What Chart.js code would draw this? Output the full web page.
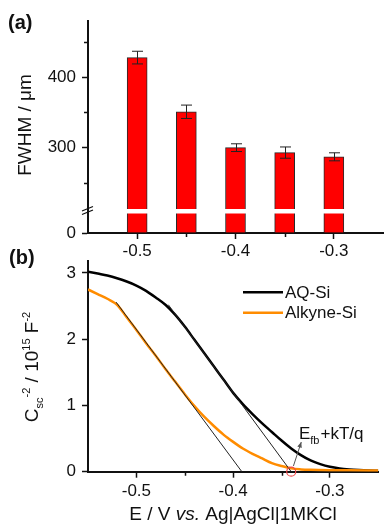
<!DOCTYPE html>
<html><head><meta charset="utf-8">
<script src="https://cdn.jsdelivr.net/npm/chart.js@4/dist/chart.umd.min.js"></script>
<style>
html,body{margin:0;padding:0;background:#fff;}
#wrap{position:relative;width:384px;height:526px;overflow:hidden;background:#fff;}
#ca{position:absolute;left:0;top:0;}
#cb{position:absolute;left:0;top:244px;}
</style></head><body>
<div id="wrap"><canvas id="ca" width="384" height="262"></canvas><canvas id="cb" width="384" height="282"></canvas></div>
<script>
// ---------- Panel (a) data ----------
const potentials = [-0.5, -0.45, -0.4, -0.35, -0.3];
const fwhm = [428, 351, 300, 293, 287];
const fwhmErr = [9, 9.5, 5.5, 8, 5.7];
const fwhmTicks = [300, 400];
const fwhmMinorTicks = [250, 350, 450];
const fwhmLowTicks = [0];
const potentialTicks = [-0.5, -0.4, -0.3];
const potentialMinorTicks = [-0.45, -0.35];

// ---------- Panel (b) data ----------
const seriesNames = ['AQ-Si', 'Alkyne-Si'];
const aqE = [-0.55,-0.54,-0.53,-0.52,-0.51,-0.50,-0.49,-0.48,-0.47,-0.46,-0.45,-0.44,-0.43,-0.42,-0.41,-0.40,-0.39,-0.38,-0.37,-0.36,-0.35,-0.34,-0.33,-0.32,-0.31,-0.30,-0.29,-0.28,-0.27,-0.26,-0.25];
const aqC = [3.02,2.99,2.96,2.92,2.87,2.81,2.73,2.63,2.52,2.37,2.19,1.99,1.79,1.59,1.39,1.19,1.02,0.87,0.73,0.60,0.47,0.35,0.25,0.17,0.115,0.075,0.05,0.035,0.025,0.018,0.014];
const alkE = [-0.55,-0.54,-0.53,-0.52,-0.51,-0.50,-0.49,-0.48,-0.47,-0.46,-0.45,-0.44,-0.43,-0.42,-0.41,-0.40,-0.39,-0.38,-0.37,-0.36,-0.35,-0.34,-0.33,-0.32,-0.30,-0.28,-0.25];
const alkC = [2.75,2.68,2.61,2.52,2.33,2.14,1.94,1.75,1.55,1.36,1.17,0.99,0.83,0.69,0.56,0.45,0.35,0.27,0.20,0.13,0.085,0.05,0.035,0.028,0.022,0.02,0.018];
const aqTangentE = [-0.467, -0.340];
const aqTangentC = [2.52, 0];
const alkTangentE = [-0.521, -0.391];
const alkTangentC = [2.56, 0];
const efbE = [-0.34];
const efbC = [0];
const cscTicks = [0, 1, 2, 3];
const arrowE = [-0.3377, -0.3296];
const arrowC = [0.086, 0.448];
const labelPos = {E: -0.332, C: 0.50};

const FAM = "'Liberation Sans', Arial, Helvetica, sans-serif";
const ink = '#111';
const tickFont = {family: FAM, size: 17};

function minorTicksX(ctx, scale, vals) {
  ctx.beginPath();
  vals.forEach(v => {
    const p = Math.round(scale.getPixelForValue(v)) + 0.5;
    ctx.moveTo(p, scale.top); ctx.lineTo(p, scale.top + 4);
  });
  ctx.stroke();
}

// ---------- Chart (a) ----------
const topMin = 210, topMax = 480, lowMax = 30;
const barStyle = {backgroundColor: '#ff0000', borderColor: '#2a2a2a', borderWidth: 1, barThickness: 20, grouped: false};

const panelA = {
  id: 'panelA',
  afterDatasetsDraw(chart) {
    const {ctx, chartArea, scales} = chart;
    const x = scales.x, yT = scales.yTop;
    const b = yT.bottom;
    ctx.save();
    ctx.fillStyle = '#fff';
    ctx.fillRect(chartArea.left + 1.5, b - 2, chartArea.right - chartArea.left, 4.5);
    ctx.strokeStyle = '#222'; ctx.lineWidth = 1;
    potentials.forEach((p, i) => {
      const px = Math.round(x.getPixelForValue(p)) + 0.5;
      const hi = yT.getPixelForValue(fwhm[i] + fwhmErr[i]);
      const lo = yT.getPixelForValue(fwhm[i] - fwhmErr[i]);
      ctx.beginPath();
      ctx.moveTo(px, hi); ctx.lineTo(px, lo);
      ctx.moveTo(px - 5.5, hi); ctx.lineTo(px + 5.5, hi);
      ctx.moveTo(px - 5.5, lo); ctx.lineTo(px + 5.5, lo);
      ctx.stroke();
    });
    ctx.restore();
  },
  afterDraw(chart) {
    const {ctx, chartArea, scales} = chart;
    const yT = scales.yTop, x = scales.x;
    const L = chartArea.left, b = yT.bottom;
    ctx.save();
    ctx.strokeStyle = ink; ctx.lineWidth = 1.5;
    ctx.beginPath();
    fwhmMinorTicks.forEach(v => {
      const p = Math.round(yT.getPixelForValue(v)) + 0.5;
      ctx.moveTo(L - 4, p); ctx.lineTo(L, p);
    });
    ctx.stroke();
    minorTicksX(ctx, x, potentialMinorTicks);
    // axis break marks
    ctx.lineWidth = 1.3;
    ctx.beginPath();
    ctx.moveTo(L - 6, b); ctx.lineTo(L + 5, b - 4.5);
    ctx.moveTo(L - 6, b + 3.5); ctx.lineTo(L + 5, b - 1);
    ctx.stroke();
    // titles
    ctx.fillStyle = ink;
    ctx.font = '19px ' + FAM;
    ctx.textAlign = 'center'; ctx.textBaseline = 'alphabetic';
    ctx.translate(31, 125); ctx.rotate(-Math.PI / 2);
    ctx.fillText('FWHM / \u03bcm', 0, 0);
    ctx.setTransform(1, 0, 0, 1, 0, 0);
    ctx.textAlign = 'left';
    ctx.font = 'bold 20px ' + FAM;
    ctx.fillText('(a)', 8, 28.5);
    ctx.restore();
  }
};

const yCommon = {
  type: 'linear', position: 'left', stack: 'fw',
  afterFit: s => { s.width = 88; },
  grid: {drawOnChartArea: false, drawTicks: true, tickLength: 6, color: ink, tickWidth: 1.5},
  border: {display: true, color: ink, width: 2},
  ticks: {font: tickFont, color: ink, padding: 6}
};

new Chart(document.getElementById('ca'), {
  type: 'bar',
  data: {
    datasets: [
      Object.assign({label: 'FWHM', yAxisID: 'yTop', data: potentials.map((p, i) => ({x: p, y: [topMin, fwhm[i]]}))}, barStyle),
      Object.assign({label: 'FWHM (lower)', yAxisID: 'yLow', data: potentials.map((p, i) => ({x: p, y: [0, Math.min(fwhm[i], lowMax)]}))}, barStyle)
    ]
  },
  options: {
    responsive: false, animation: false, devicePixelRatio: 1,
    layout: {padding: {top: 21, right: 1, left: 0, bottom: 0}},
    plugins: {legend: {display: false}, tooltip: {enabled: false}},
    scales: {
      x: {
        type: 'linear', min: -0.55, max: -0.25, offset: false,
        afterBuildTicks: s => { s.ticks = potentialTicks.map(v => ({value: v})); },
        afterFit: s => { s.height = 29; },
        grid: {drawOnChartArea: false, drawTicks: true, tickLength: 6, color: ink, tickWidth: 1.5, offset: false},
        border: {display: true, color: ink, width: 2},
        ticks: {font: tickFont, color: ink, padding: 2, maxRotation: 0, callback: v => v.toFixed(1)}
      },
      yLow: Object.assign({}, yCommon, {
        stackWeight: 22, min: 0, max: lowMax,
        afterBuildTicks: s => { s.ticks = fwhmLowTicks.map(v => ({value: v})); }
      }),
      yTop: Object.assign({}, yCommon, {
        stackWeight: 190, min: topMin, max: topMax,
        afterBuildTicks: s => { s.ticks = fwhmTicks.map(v => ({value: v})); }
      })
    }
  },
  plugins: [panelA]
});

// ---------- Chart (b) ----------
const panelB = {
  id: 'panelB',
  afterDraw(chart) {
    const {ctx, scales} = chart;
    const x = scales.x, y = scales.y;
    ctx.save();
    ctx.strokeStyle = ink; ctx.lineWidth = 1.5;
    minorTicksX(ctx, x, potentialMinorTicks);
    // legend
    const colors = {};
    chart.data.datasets.forEach(d => { colors[d.label] = d.borderColor; });
    ctx.font = '17px ' + FAM;
    ctx.textBaseline = 'middle'; ctx.textAlign = 'left';
    seriesNames.forEach((n, i) => {
      const ly = 48.3 + i * 20.4;
      ctx.strokeStyle = colors[n]; ctx.lineWidth = 2.5;
      ctx.beginPath(); ctx.moveTo(243, ly); ctx.lineTo(283, ly); ctx.stroke();
      ctx.fillStyle = ink;
      ctx.fillText(n, 285, ly + 1);
    });
    // arrow
    const ax0 = x.getPixelForValue(arrowE[0]), ay0 = y.getPixelForValue(arrowC[0]);
    const ax1 = x.getPixelForValue(arrowE[1]), ay1 = y.getPixelForValue(arrowC[1]);
    ctx.strokeStyle = '#555'; ctx.fillStyle = '#555'; ctx.lineWidth = 1;
    ctx.beginPath(); ctx.moveTo(ax0, ay0); ctx.lineTo(ax1, ay1); ctx.stroke();
    const ang = Math.atan2(ay1 - ay0, ax1 - ax0);
    ctx.beginPath();
    ctx.moveTo(ax1, ay1);
    ctx.lineTo(ax1 - 6 * Math.cos(ang - 0.4), ay1 - 6 * Math.sin(ang - 0.4));
    ctx.lineTo(ax1 - 6 * Math.cos(ang + 0.4), ay1 - 6 * Math.sin(ang + 0.4));
    ctx.closePath(); ctx.fill();
    // annotation text
    ctx.fillStyle = ink; ctx.textBaseline = 'alphabetic';
    let tx = x.getPixelForValue(labelPos.E), ty = y.getPixelForValue(labelPos.C);
    ctx.font = '17px ' + FAM; ctx.fillText('E', tx, ty); tx += ctx.measureText('E').width;
    ctx.font = '11px ' + FAM; ctx.fillText('fb', tx, ty + 5); tx += ctx.measureText('fb').width + 1;
    ctx.font = '17px ' + FAM; ctx.fillText('+kT/q', tx, ty);
    // x title
    const parts = [['E / V ', ''], ['vs.', 'italic '], [' Ag|AgCl|1MKCl', '']];
    let tot = 0;
    parts.forEach(p => { ctx.font = p[1] + '19px ' + FAM; tot += ctx.measureText(p[0]).width; });
    let sx = 233 - tot / 2;
    parts.forEach(p => { ctx.font = p[1] + '19px ' + FAM; ctx.fillText(p[0], sx, 276); sx += ctx.measureText(p[0]).width; });
    // y title (rotated, with sub/superscripts)
    const yParts = [['C', 19, 0], ['sc', 11, 5], ['-2', 11, -8], [' / 10', 19, 0], ['15', 11, -8], [' F', 19, 0], ['-2', 11, -8]];
    let ytot = 0;
    yParts.forEach(p => { ctx.font = p[1] + 'px ' + FAM; ytot += ctx.measureText(p[0]).width; });
    ctx.translate(38, 367 - 244); ctx.rotate(-Math.PI / 2);
    let cx = -ytot / 2;
    yParts.forEach(p => { ctx.font = p[1] + 'px ' + FAM; ctx.fillText(p[0], cx, p[2]); cx += ctx.measureText(p[0]).width; });
    ctx.setTransform(1, 0, 0, 1, 0, 0);
    ctx.font = 'bold 20px ' + FAM;
    ctx.fillText('(b)', 9, 264 - 244);
    ctx.restore();
  }
};

const toXY = (es, cs) => es.map((e, i) => ({x: e, y: cs[i]}));

new Chart(document.getElementById('cb'), {
  type: 'line',
  data: {
    datasets: [
      {label: 'Efb', data: toXY(efbE, efbC), showLine: false, pointRadius: 4.5, pointStyle: 'circle',
       pointBorderColor: '#f04848', pointBackgroundColor: 'rgba(0,0,0,0)', pointBorderWidth: 1.2, clip: false},
      {label: 'AQ-Si tangent', data: toXY(aqTangentE, aqTangentC), borderColor: '#222', borderWidth: 1, pointRadius: 0},
      {label: 'Alkyne-Si tangent', data: toXY(alkTangentE, alkTangentC), borderColor: '#222', borderWidth: 1, pointRadius: 0},
      {label: 'Alkyne-Si', data: toXY(alkE, alkC), borderColor: '#ff8c00', borderWidth: 2.5, pointRadius: 0, cubicInterpolationMode: 'monotone'},
      {label: 'AQ-Si', data: toXY(aqE, aqC), borderColor: '#000000', borderWidth: 2.5, pointRadius: 0, cubicInterpolationMode: 'monotone'}
    ]
  },
  options: {
    responsive: false, animation: false, devicePixelRatio: 1,
    layout: {padding: {top: 17, right: 1, left: 0, bottom: 0}},
    plugins: {legend: {display: false}, tooltip: {enabled: false}},
    scales: {
      x: {
        type: 'linear', min: -0.55, max: -0.25,
        afterBuildTicks: s => { s.ticks = potentialTicks.map(v => ({value: v})); },
        afterFit: s => { s.height = 54.3; },
        grid: {drawOnChartArea: false, drawTicks: true, tickLength: 6, color: ink, tickWidth: 1.5},
        border: {display: true, color: ink, width: 2},
        ticks: {font: tickFont, color: ink, padding: 3, maxRotation: 0, callback: v => v.toFixed(1)}
      },
      y: {
        type: 'linear', min: 0, max: 3.18,
        afterBuildTicks: s => { s.ticks = cscTicks.map(v => ({value: v})); },
        afterFit: s => { s.width = 88; },
        grid: {drawOnChartArea: false, drawTicks: true, tickLength: 6, color: ink, tickWidth: 1.5},
        border: {display: true, color: ink, width: 2},
        ticks: {font: tickFont, color: ink, padding: 6, callback: v => String(v)}
      }
    }
  },
  plugins: [panelB]
});
</script>
</body></html>
